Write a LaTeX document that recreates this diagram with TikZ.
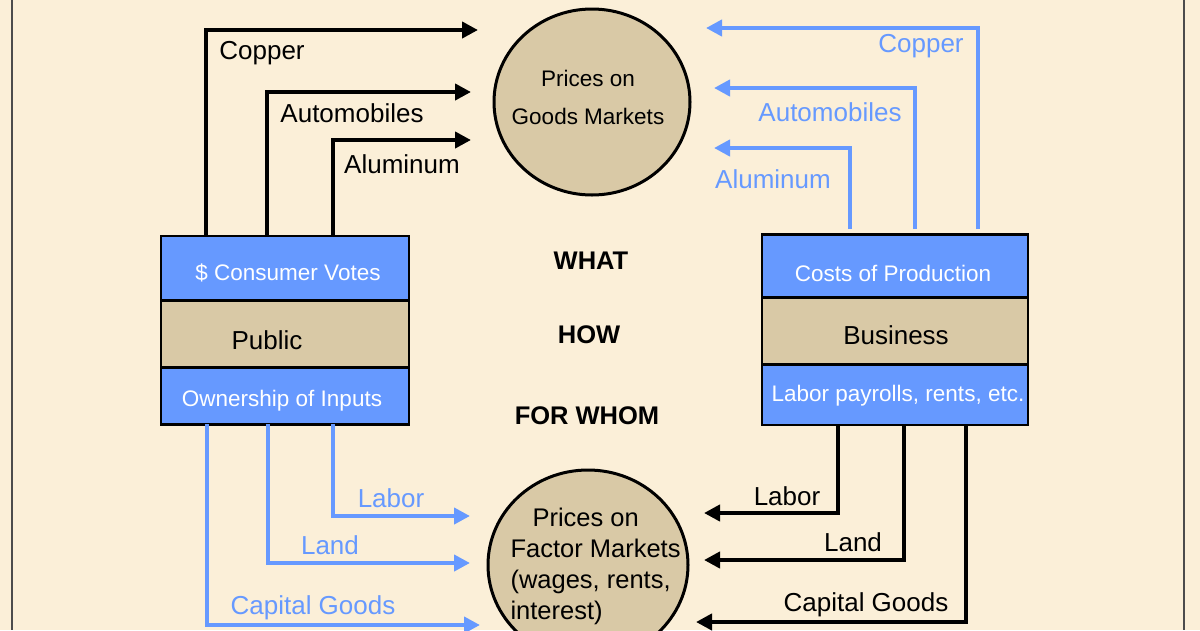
\documentclass[tikz,border=0pt]{standalone}
\usepackage{fontspec}
\setmainfont{Liberation Sans}
\usetikzlibrary{arrows.meta,shapes.geometric}
\definecolor{bg}{HTML}{FBEFD8}
\definecolor{bl}{HTML}{6699FF}
\definecolor{tn}{HTML}{D9C9A6}
\begin{document}
\begin{tikzpicture}[x=1pt,y=-1pt,
  blk/.style={line width=4pt,-{Triangle[length=16pt,width=16pt]}},
  blu/.style={line width=4pt,bl,-{Triangle[length=16pt,width=16pt]}},
  lab/.style={font=\fontsize{26}{28}\selectfont},
  blab/.style={font=\fontsize{26}{28}\selectfont,text=bl},
  wt/.style={font=\fontsize{22.5}{24}\selectfont,text=white},
  ctr/.style={font=\fontsize{25.5}{28}\selectfont\bfseries},
  box/.style={draw=black,line width=2.5pt,inner sep=0pt}]
\useasboundingbox (0,0) rectangle (1200,630);
\fill[bg] (0,0) rectangle (1200,630);
\draw[line width=2pt,gray!60!black] (12,0) -- (12,630) (1184,0) -- (1184,630);
% circles
\node[ellipse,draw,line width=3pt,fill=tn,minimum width=196pt,minimum height=186pt] (G) at (592,102) {};
\node[font=\fontsize{22.5}{24}\selectfont,align=center] (Gt) at (588,97) {Prices on\\[14pt]Goods Markets};
\node[ellipse,draw,line width=3pt,fill=tn,minimum width=200pt,minimum height=190pt] (F) at (588,565) {};
\node[font=\fontsize{25.5}{31}\selectfont,align=left,anchor=west] (Ft) at (507,566) {\hspace*{22pt}Prices on\\Factor Markets\\(wages, rents,\\interest)};
% left box
\node[box,fill=bl,minimum width=248pt,minimum height=64pt] (LB1) at (285,268) {};
\node[box,fill=tn,minimum width=248pt,minimum height=67pt] (LB2) at (285,334) {};
\node[box,fill=bl,minimum width=248pt,minimum height=57pt] (LB3) at (285,396) {};
\node[wt] at (288,273) {\$ Consumer Votes};
\node[lab] at (267,340) {Public};
\node[wt] at (282,401) {Ownership of Inputs};
% right box
\node[box,fill=bl,minimum width=266pt,minimum height=63pt] (RB1) at (895,266) {};
\node[box,fill=tn,minimum width=266pt,minimum height=67pt] (RB2) at (895,331) {};
\node[box,fill=bl,minimum width=266pt,minimum height=60pt] (RB3) at (895,395) {};
\node[wt] at (893,273) {Costs of Production};
\node[lab] at (896,335) {Business};
\node[wt] at (898,396) {Labor payrolls, rents, etc.};
% center
\node[ctr] at (591,261) {WHAT};
\node[ctr] at (589,335) {HOW};
\node[ctr] at (587,416) {FOR WHOM};
% coordinates
\coordinate (a1) at (478,30); \coordinate (a2) at (471,92); \coordinate (a3) at (471,140);
\coordinate (b1) at (706,28); \coordinate (b2) at (714,88); \coordinate (b3) at (714,148);
\coordinate (c1) at (470,516); \coordinate (c2) at (470,563); \coordinate (c3) at (480,625);
\coordinate (d1) at (704,513); \coordinate (d2) at (704,560); \coordinate (d3) at (696,622);
% top-left black
\draw[blk] (206,236) |- (a1);
\draw[blk] (267,236) |- (a2);
\draw[blk] (333,236) |- (a3);
\node[lab] at (262,53) {Copper};
\node[lab] at (352,113) {Automobiles};
\node[lab] at (402,164) {Aluminum};
% top-right blue
\draw[blu] (978,229) |- (b1);
\draw[blu] (915,229) |- (b2);
\draw[blu] (850,229) |- (b3);
\node[blab] at (921,46) {Copper};
\node[blab] at (830,112) {Automobiles};
\node[blab] at (773,179) {Aluminum};
% bottom-left blue
\draw[blu] (333,424) |- (c1);
\draw[blu] (268,424) |- (c2);
\draw[blu] (207,424) |- (c3);
\node[blab] at (391,498) {Labor};
\node[blab] at (330,545) {Land};
\node[blab] at (313,608) {Capital Goods};
% bottom-right black
\draw[blk] (838,425) |- (d1);
\draw[blk] (904,425) |- (d2);
\draw[blk] (966,425) |- (d3);
\node[lab] at (787,496) {Labor};
\node[lab] at (853,542) {Land};
\node[lab] at (866,605) {Capital Goods};
\end{tikzpicture}
\end{document}
